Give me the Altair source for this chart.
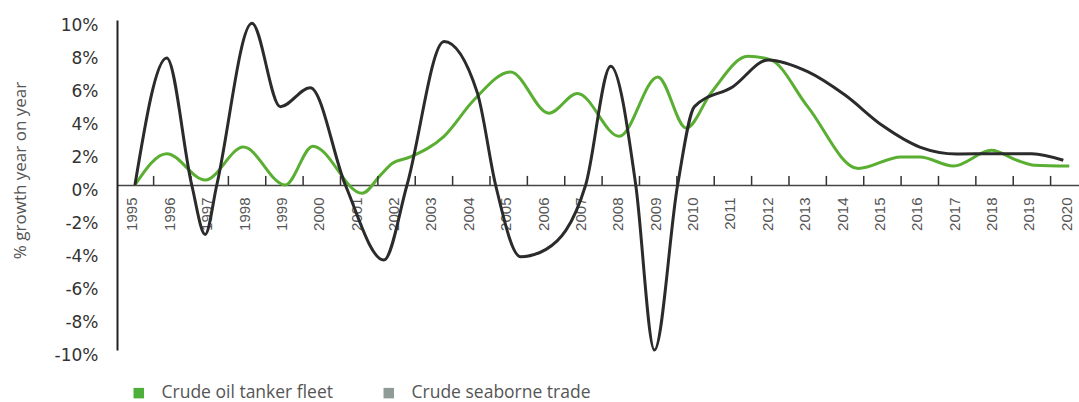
import altair as alt
import pandas as pd

# Crude seaborne trade (black line): x = year position, y = % growth
trade_year = [1995.0, 1995.85, 1996.52, 1996.88, 1997.19, 1998.13, 1998.89, 1999.69,
              2000.63, 2001.66, 2002.28, 2003.27, 2004.16, 2004.65, 2005.32, 2006.0,
              2007.06, 2007.73, 2008.4, 2008.9, 2009.52, 2009.97, 2011.0, 2011.94,
              2013.0, 2014.0, 2015.0, 2016.0, 2017.0, 2018.0, 2019.0, 2019.84]
trade_value = [0.0, 7.7, 0.0, -3.0, 0.0, 9.8, 4.75, 5.9,
               0.0, -4.55, 0.0, 8.7, 5.6, 0.0, -4.35, -3.9,
               0.0, 7.2, 0.0, -10.0, 0.0, 4.75, 5.96, 7.58,
               6.87, 5.45, 3.6, 2.3, 1.88, 1.9, 1.9, 1.5]

# Crude oil tanker fleet (green line)
fleet_year = [1995.0, 1995.85, 1996.88, 1997.9, 1999.02, 1999.76, 2001.08, 2001.57,
              2001.88, 2002.37, 2003.27, 2004.07, 2005.05, 2006.08, 2006.84, 2007.96,
              2008.99, 2009.75, 2010.42, 2011.4, 2012.0, 2013.0, 2014.35, 2015.5,
              2016.0, 2016.9, 2017.92, 2018.6, 2019.07, 2020.0]
fleet_value = [0.0, 1.9, 0.3, 2.3, 0.0, 2.35, -0.5, 0.6,
               1.3, 1.7, 2.95, 5.15, 6.85, 4.35, 5.55, 2.95,
               6.55, 3.45, 5.6, 7.8, 7.6, 4.75, 1.0, 1.7,
               1.7, 1.15, 2.1, 1.5, 1.2, 1.15]

series_names = ["Crude oil tanker fleet", "Crude seaborne trade"]
year_labels = list(range(1995, 2021))
tick_positions = [y + 0.5 for y in range(1995, 2020)]
y_values = list(range(-10, 11, 2))

GREEN = "#5aae32"
BLACK = "#2b2b2b"
LEG_GREEN = "#4caf3a"
LEG_GRAY = "#8e9b96"

fleet_df = pd.DataFrame({"year": fleet_year, "value": fleet_value})
trade_df = pd.DataFrame({"year": trade_year, "value": trade_value})
ticks_df = pd.DataFrame({"year": tick_positions, "value": 0.0, "value2": 0.55})
legend_df = pd.DataFrame({"name": series_names, "year": [2000.0, 2000.0], "value": [0.0, 0.0]})

xscale = alt.Scale(domain=[1994.52, 2020.26], nice=False, zero=False)
yscale = alt.Scale(domain=[-10, 10], nice=False)

x_axis = alt.Axis(values=year_labels, format="d", labelAngle=-90, offset=-165,
                  ticks=False, grid=False, domainColor="#444", domainWidth=1.5,
                  labelFont="Liberation Sans", labelFontSize=15, labelColor="#555",
                  labelPadding=12, labelFlush=False, labelOverlap=False,
                  labelOffset=-3, title=None)
y_axis = alt.Axis(values=y_values, labelExpr="datum.value + '%'", ticks=False,
                  grid=False, domainColor="#222", domainWidth=2,
                  labelFont="DejaVu Sans", labelFontSize=17, labelColor="#333",
                  labelPadding=19, labelOffset=5, labelOverlap=False,
                  title="% growth year on year",
                  titleFont="Open Sans", titleFontSize=17, titleFontWeight="normal",
                  titleColor="#555", titleX=-97, titleY=150, titleAngle=270,
                  titleAlign="center", titleBaseline="middle")

X = alt.X("year:Q", scale=xscale, axis=x_axis)
Y = alt.Y("value:Q", scale=yscale, axis=y_axis)

fleet_line = alt.Chart(fleet_df).mark_line(
    interpolate="monotone", strokeWidth=3, color=GREEN).encode(x=X, y=Y)
trade_line = alt.Chart(trade_df).mark_line(
    interpolate="monotone", strokeWidth=3, color=BLACK).encode(x=X, y=Y)

tick_layer = alt.Chart(ticks_df).mark_rule(color="#333", strokeWidth=1.5).encode(
    x=X, y=Y, y2="value2:Q")

legend_layer = alt.Chart(legend_df).mark_square(opacity=0).encode(
    x=X, y=Y,
    color=alt.Color(
        "name:N",
        scale=alt.Scale(domain=series_names, range=[LEG_GREEN, LEG_GRAY]),
        legend=alt.Legend(orient="none", legendX=13, legendY=364, direction="horizontal",
                          title=None, symbolType="square", symbolSize=110,
                          symbolOpacity=1, symbolStrokeWidth=0, labelFont="Open Sans",
                          labelFontSize=17.5, labelColor="#555", labelOffset=14,
                          labelLimit=400, columnPadding=46, padding=0),
    ),
)

chart = alt.layer(fleet_line, trade_line, tick_layer, legend_layer).properties(
    width=962, height=330,
    autosize=alt.AutoSizeParams(type="none"),
    padding={"left": 117, "top": 20, "right": 0, "bottom": 52},
    background="white",
).configure_view(strokeWidth=0)

chart.save("out.html", embed_options={"renderer": "svg", "actions": False})
